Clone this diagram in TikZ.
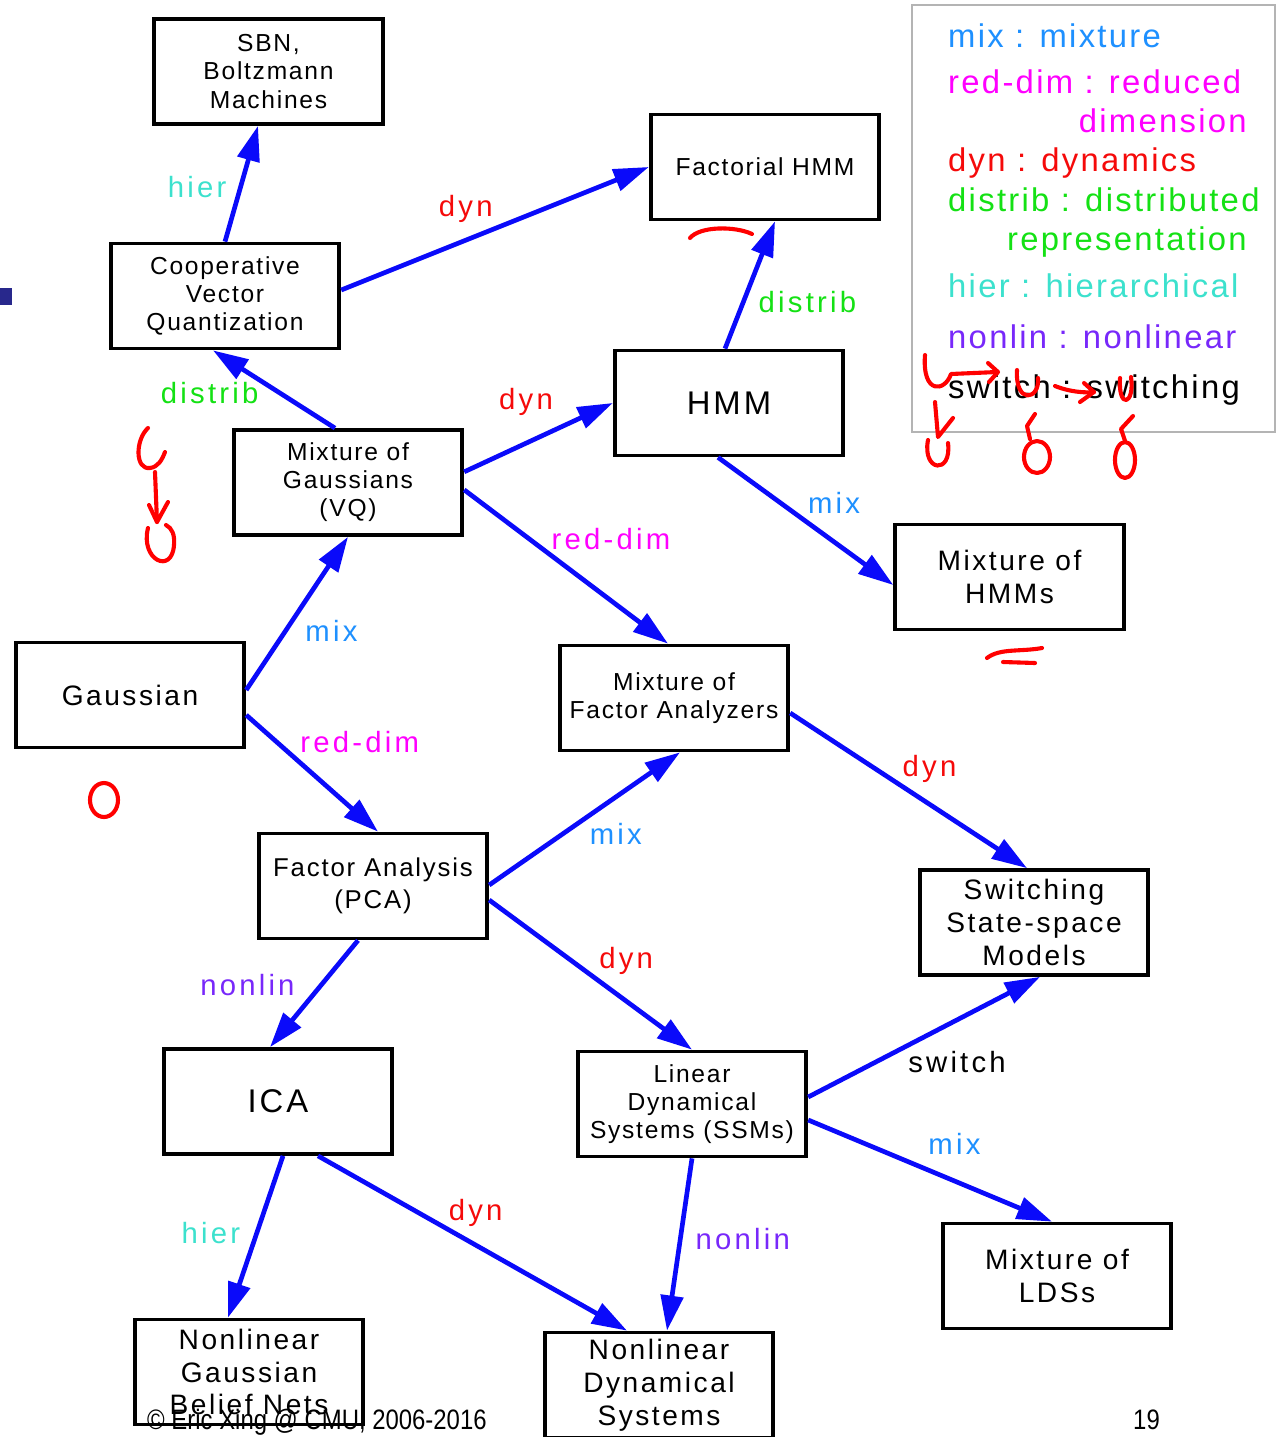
\documentclass[tikz,border=0pt]{standalone}
\usepackage{fontspec}
\setmainfont{Liberation Sans}
\newfontfamily\boxfont[LetterSpace=7]{Liberation Sans}
\newfontfamily\bigboxfont[LetterSpace=9]{Liberation Sans}
\newfontfamily\edgefont[LetterSpace=11]{Liberation Sans}
\newfontfamily\keyfont[LetterSpace=7]{Liberation Sans}
\newfontfamily\footfont[FakeStretch=0.85]{Liberation Sans}
\usetikzlibrary{arrows.meta}

\definecolor{linkblue}{RGB}{10,10,250}
\definecolor{mixblue}{RGB}{30,144,255}
\definecolor{redmag}{RGB}{255,0,255}
\definecolor{dynred}{RGB}{245,10,10}
\definecolor{distgreen}{RGB}{20,225,20}
\definecolor{hiercyan}{RGB}{60,225,205}
\definecolor{nonlinvio}{RGB}{120,40,250}
\definecolor{keygray}{RGB}{180,180,180}
\definecolor{bulletnavy}{RGB}{40,40,140}

\begin{document}
\begin{tikzpicture}[x=0.3mm, y=-0.3mm,
    model/.style={rectangle, draw, line width=3.2pt, minimum width=68.6mm, minimum height=31.5mm,
                  align=center, inner sep=2pt, font=\boxfont\fontsize{21}{24}\selectfont},
    bigmodel/.style={model, font=\bigboxfont\fontsize{24}{28}\selectfont},
    hugemodel/.style={model, font=\bigboxfont\fontsize{28}{32}\selectfont},
    link/.style={draw=linkblue, line width=4pt, -{Triangle[length=30pt, width=19pt]}},
    lab/.style={font=\edgefont\fontsize{25}{28}\selectfont, inner sep=1pt},
    key/.style={font=\keyfont\fontsize{28}{32}\selectfont, inner sep=0pt, anchor=base west},
    keycont/.style={key, anchor=base east},
    scribble/.style={draw=red, line width=3.5pt, line cap=round, line join=round},
]
\clip (0,0) rectangle (1282,1437);

% ---- models ----
\node[model] (sbn) at (268.5,71.5) {SBN,\\Boltzmann\\Machines};
\node[model] (cvq) at (225,296) {Cooperative\\Vector\\Quantization};
\node[model] (fhmm) at (765,167) {Factorial HMM};
\node[hugemodel] (hmm) at (729,403) {HMM};
\node[model] (mog) at (348,482.5) {Mixture of\\Gaussians\\(VQ)};
\node[bigmodel] (mhmm) at (1009.5,577) {Mixture of\\HMMs};
\node[bigmodel] (gauss) at (130,695) {Gaussian};
\node[model] (mfa) at (674,698) {Mixture of\\Factor Analyzers};
\node[model, font=\boxfont\fontsize{22}{27}\selectfont] (fa) at (373,886) {Factor Analysis\\(PCA)};
\node[bigmodel] (sssm) at (1034,922.5) {Switching\\State-space\\Models};
\node[hugemodel] (ica) at (278,1101.5) {ICA};
\node[model] (lds) at (692,1104) {Linear\\Dynamical\\Systems (SSMs)};
\node[bigmodel] (mlds) at (1057,1276) {Mixture of\\LDSs};
\node[bigmodel] (ngbn) at (249,1372) {Nonlinear\\Gaussian\\Belief Nets};
\node[bigmodel] (nds) at (659,1385) {Nonlinear\\Dynamical\\Systems};

% ---- links ----
\draw[link] (cvq.north) -- node[lab, text=hiercyan, pos=0.47, left=9pt] {hier} ([xshift=-3.15mm]sbn.south);
\draw[link] ([yshift=1.8mm]cvq.east) -- node[lab, text=dynred, pos=0.405, above=12pt] {dyn} (fhmm.west);
\draw[link] ([xshift=-1.2mm]hmm.north) -- node[lab, text=distgreen, pos=0.37, right=10pt] {distrib} ([xshift=3mm]fhmm.south);
\draw[link] ([xshift=-3.9mm]mog.north) -- node[lab, text=distgreen, pos=0.455, left=15pt] {distrib} ([xshift=-3.6mm]cvq.south);
\draw[link] ([yshift=3.2mm]mog.east) -- node[lab, text=dynred, pos=0.416, above=21pt] {dyn} (hmm.west);
\draw[link] ([yshift=-2.2mm]mog.east) -- node[lab, text=redmag, pos=0.32, right=16pt] {red-dim} ([xshift=-1.8mm]mfa.north);
\draw[link] ([xshift=-3.3mm]hmm.south) -- node[lab, text=mixblue, pos=0.36, right=20pt] {mix} ([yshift=-2.4mm]mhmm.west);
\draw[link] ([yshift=1.5mm]gauss.east) -- node[lab, text=mixblue, pos=0.386, right=14pt] {mix} (mog.south);
\draw[link] ([yshift=-6mm]gauss.east) -- node[lab, text=redmag, pos=0.233, right=17pt] {red-dim} ([xshift=1.5mm]fa.north);
\draw[link] ([yshift=0.3mm]fa.east) -- node[lab, text=mixblue, pos=0.386, right=20pt] {mix} ([xshift=1.8mm]mfa.south);
\draw[link] ([yshift=-4.5mm]mfa.east) -- node[lab, text=dynred, pos=0.361, right=20pt] {dyn} ([xshift=-2.1mm]sssm.north);
\draw[link] ([yshift=-4.2mm]fa.east) -- node[lab, text=dynred, pos=0.41, right=20pt] {dyn} (lds.north);
\draw[link] ([xshift=-4.5mm]fa.south) -- node[lab, text=nonlinvio, pos=0.415, left=20pt] {nonlin} ([xshift=-2.4mm]ica.north);
\draw[link] ([yshift=2.1mm]lds.east) -- node[lab, text=black, pos=0.642, below=24pt] {switch} ([xshift=1.8mm]sssm.south);
\draw[link] ([yshift=-4.8mm]lds.east) -- node[lab, text=mixblue, pos=0.6, above=20pt] {mix} ([xshift=-1.5mm]mlds.north);
\draw[link] ([xshift=1.5mm]ica.south) -- node[lab, text=hiercyan, pos=0.48, left=11pt] {hier} ([xshift=-6.3mm]ngbn.north);
\draw[link] ([xshift=12mm]ica.south) -- node[lab, text=dynred, pos=0.51, above=13pt] {dyn} ([xshift=-9.6mm]nds.north);
\draw[link] (lds.south) -- node[lab, text=nonlinvio, pos=0.468, right=10pt] {nonlin} ([xshift=2.4mm]nds.north);

% ---- key ----
\draw[keygray, line width=2.5pt] (912,5) rectangle (1275,432);
\node[key, text=mixblue] (kmix) at (948,47) {mix : mixture};
\node[key, text=redmag] (kred) at (948,93) {red-dim : reduced};
\node[keycont, text=redmag] (kred2) at (1247,132) {dimension};
\node[key, text=dynred] (kdyn) at (948,171) {dyn : dynamics};
\node[key, text=distgreen] (kdist) at (948,211) {distrib : distributed};
\node[keycont, text=distgreen] (kdist2) at (1247,250) {representation};
\node[key, text=hiercyan] (khier) at (948,297) {hier : hierarchical};
\node[key, text=nonlinvio] (knonlin) at (948,348) {nonlin : nonlinear};
\node[key, text=black] (kswitch) at (948,398) {switch : switching};

% ---- slide bits ----
\fill[bulletnavy] (0,288) rectangle (12,305);
\node[font=\footfont\fontsize{24}{28}\selectfont, anchor=base west, inner sep=0pt] (copy) at (147,1429) {© Eric Xing @ CMU, 2006-2016};
\node[font=\footfont\fontsize{24}{28}\selectfont, anchor=base west, inner sep=0pt] (page) at (1133,1429) {19};

% ---- red pen ----
\draw[scribble] (148,428) .. controls (135,440) and (135,470) .. (150,468) .. controls (158,467) and (162,460) .. (165,452);
\draw[scribble] (155,472) -- (157,522);
\draw[scribble] (149,505) -- (157,522) -- (168,502);
\draw[scribble] (148,528) .. controls (140,560) and (172,575) .. (174,545) .. controls (175,535) and (172,528) .. (166,525);
\draw[scribble] (104,800) ellipse [x radius=4.2mm, y radius=5.1mm];
\draw[scribble] (690,238) .. controls (700,226) and (735,226) .. (752,234);
\draw[scribble] (987,658) .. controls (1000,648) and (1020,652) .. (1042,648);
\draw[scribble] (1003,662) -- (1035,663);
\draw[scribble] (925,355) .. controls (922,395) and (945,392) .. (951,374) -- (997,372);
\draw[scribble] (988,363) -- (998,372) -- (989,382);
\draw[scribble] (1017,370) .. controls (1015,405) and (1040,400) .. (1038,378);
\draw[scribble] (1055,386) .. controls (1070,392) and (1085,393) .. (1094,392);
\draw[scribble] (1084,383) -- (1094,392) -- (1080,402);
\draw[scribble] (1120,378) .. controls (1118,410) and (1135,405) .. (1131,377);
\draw[scribble] (935,402) -- (938,437) -- (953,418);
\draw[scribble] (928,440) .. controls (922,472) and (952,475) .. (948,443);
\draw[scribble] (1035,414) -- (1027,426) -- (1030,439);
\draw[scribble] (1037,457) ellipse [x radius=3.9mm, y radius=4.8mm];
\draw[scribble] (1133,416) -- (1121,429) -- (1125,441);
\draw[scribble] (1125,460) ellipse [x radius=3mm, y radius=5.4mm];

\end{tikzpicture}
\end{document}
